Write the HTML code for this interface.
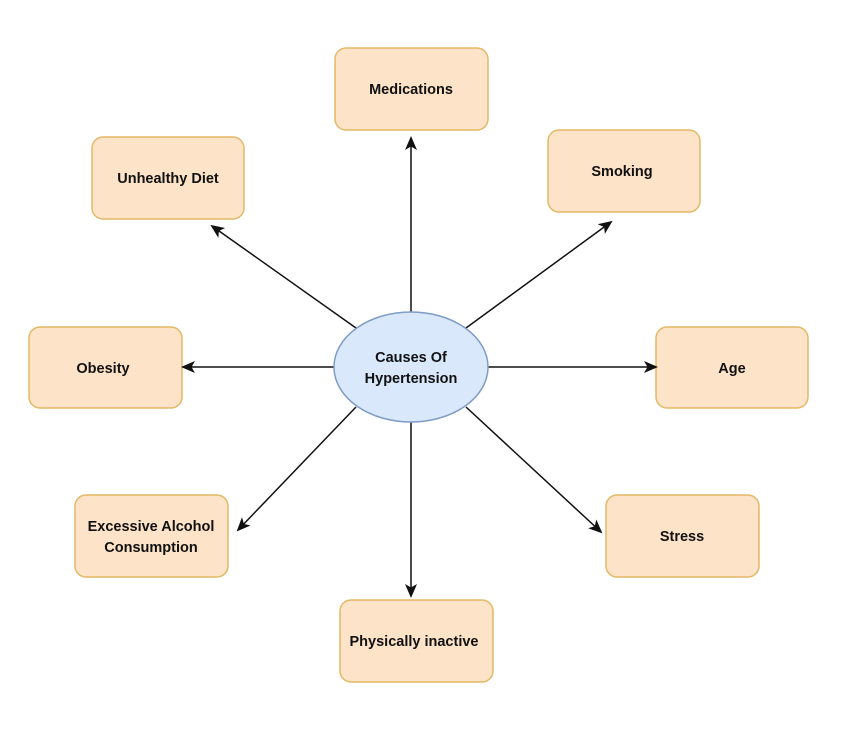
<!DOCTYPE html>
<html><head><style>
body{margin:0;background:#fff;}
</style></head><body>
<svg width="851" height="725" xmlns="http://www.w3.org/2000/svg" font-family="Liberation Sans, sans-serif" font-weight="bold" font-size="14.5">
<defs><marker id="a" markerWidth="14" markerHeight="12" refX="12" refY="6" orient="auto" markerUnits="userSpaceOnUse"><path d="M0,0 L14,6 L0,12 L3.5,6 Z" fill="#111"/></marker></defs>
<g fill="#fde3c8" stroke="#e3b866" stroke-width="1.5">
<rect x="335" y="48" width="153" height="82" rx="11"/>
<rect x="92" y="137" width="152" height="82" rx="11"/>
<rect x="548" y="130" width="152" height="82" rx="11"/>
<rect x="29" y="327" width="153" height="81" rx="11"/>
<rect x="656" y="327" width="152" height="81" rx="11"/>
<rect x="75" y="495" width="153" height="82" rx="11"/>
<rect x="606" y="495" width="153" height="82" rx="11"/>
<rect x="340" y="600" width="153" height="82" rx="11"/>
</g>
<g stroke="#111" stroke-width="1.5" marker-end="url(#a)">
<line x1="411" y1="312" x2="411" y2="138"/>
<line x1="356" y1="328" x2="212" y2="226"/>
<line x1="466" y1="328" x2="611" y2="222"/>
<line x1="334" y1="367" x2="183" y2="367"/>
<line x1="488" y1="367" x2="656" y2="367"/>
<line x1="356" y1="407" x2="238" y2="530"/>
<line x1="466" y1="407" x2="601" y2="532"/>
<line x1="411" y1="422" x2="411" y2="596"/>
</g>
<ellipse cx="411" cy="367" rx="77" ry="55" fill="#dae8fc" stroke="#7e9cc6" stroke-width="1.5"/>
<g fill="#111" text-anchor="middle">
<text x="411" y="362">Causes Of</text>
<text x="411" y="383">Hypertension</text>
<text x="411" y="94">Medications</text>
<text x="168" y="183">Unhealthy Diet</text>
<text x="622" y="176">Smoking</text>
<text x="103" y="373">Obesity</text>
<text x="732" y="373">Age</text>
<text x="151" y="531">Excessive Alcohol</text>
<text x="151" y="552">Consumption</text>
<text x="682" y="541">Stress</text>
<text x="414" y="646">Physically inactive</text>
</g>
</svg>
</body></html>
